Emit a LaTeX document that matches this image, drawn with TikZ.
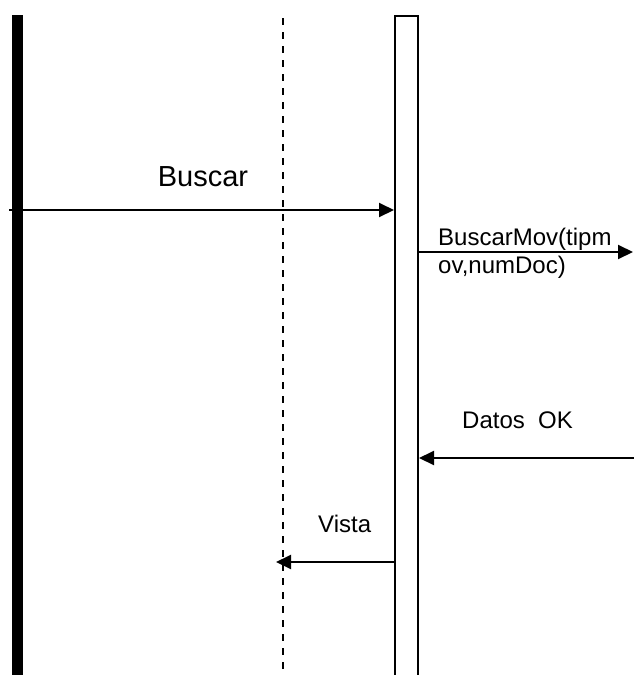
\documentclass[tikz,border=0pt]{standalone}
\usepackage{fontspec}
\setmainfont{Liberation Sans}
\usetikzlibrary{arrows.meta}
\begin{document}
\begin{tikzpicture}[x=1pt,y=-1pt,
  msg/.style={line width=2pt,-{Triangle[length=15pt,width=14pt]}},
  lbl/.style={font=\fontsize{24}{28}\selectfont,inner sep=0pt},
  biglbl/.style={font=\fontsize{29}{34}\selectfont,inner sep=0pt},
  actor/.style={fill=black,draw=none},
  lifeline/.style={line width=2pt,dash pattern=on 7.3pt off 6.7pt},
  activation/.style={draw=black,line width=1.5pt,fill=white}]
\useasboundingbox (0,0) rectangle (634,675);
% lifelines
\fill[actor] (12,15) rectangle (23,675);
\coordinate (dtop) at (283,18);
\coordinate (dbot) at (283,675);
\draw[lifeline] (dtop) -- (dbot);
\draw[activation] (418,690) -- (418,16) -- (395,16) -- (395,690);
% endpoints
\coordinate (b1) at (9,210);
\coordinate (b2) at (394,210);
\coordinate (m1) at (418,252);
\coordinate (m2) at (633,252);
\coordinate (d1) at (634,458);
\coordinate (d2) at (419,458);
\coordinate (v1) at (395,562);
\coordinate (v2) at (276,562);
% messages
\draw[msg] (b1) -- (b2);
\draw[msg] (m1) -- (m2);
\draw[msg] (d1) -- (d2);
\draw[msg] (v1) -- (v2);
% labels
\node[biglbl,anchor=base] (lb) at (203,186) {Buscar};
\node[lbl,anchor=base west,align=left] (lm) at (438,273) {BuscarMov(tipm\\ov,numDoc)};
\node[lbl,anchor=base west] (ld) at (462,428) {Datos~~OK};
\node[lbl,anchor=base west] (lv) at (318,532) {Vista};
\end{tikzpicture}
\end{document}
